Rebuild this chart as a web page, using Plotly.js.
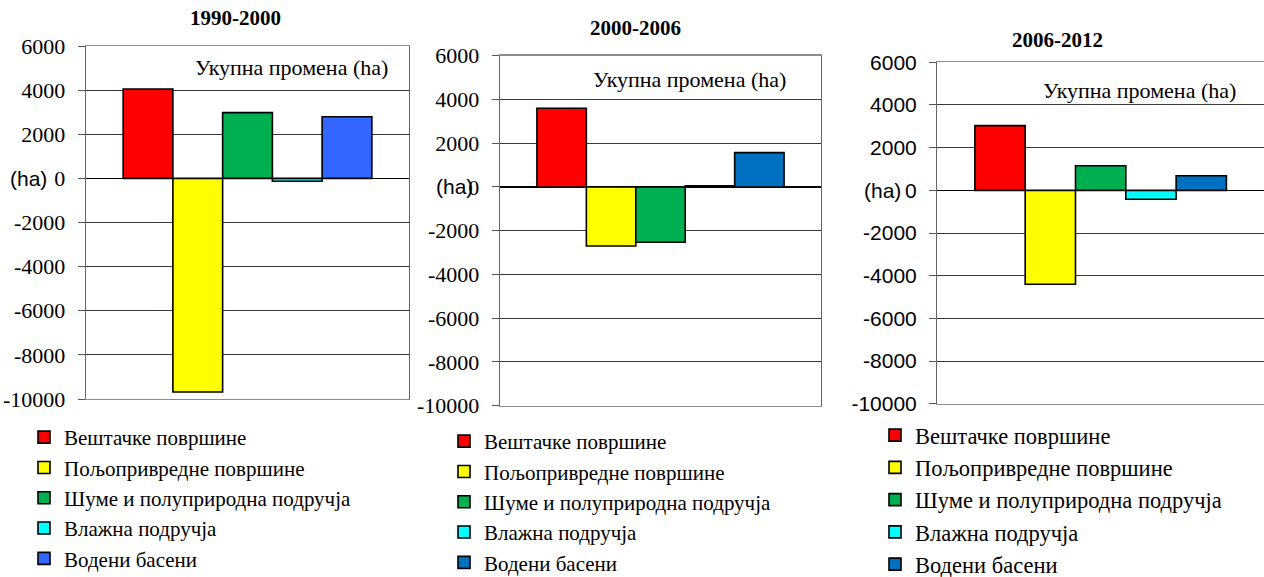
<!DOCTYPE html>
<html>
<head>
<meta charset="utf-8">
<script src="https://cdn.plot.ly/plotly-3.0.1.min.js"></script>
<style>html,body{margin:0;padding:0;background:#fff;}#chart{width:1264px;height:577px;}</style>
</head>
<body>
<div id="chart"></div>
<script>
// ---- data ----
const categories = ['Вештачке површине', 'Пољопривредне површине', 'Шуме и полуприродна подручја', 'Влажна подручја', 'Водени басени'];
const periods = ['1990-2000', '2000-2006', '2006-2012'];
const values1990_2000 = [4050, -9680, 2980, -130, 2790];
const values2000_2006 = [3600, -2700, -2530, 50, 1570];
const values2006_2012 = [3030, -4400, 1150, -420, 680];
const yTicks = [-10000, -8000, -6000, -4000, -2000, 0, 2000, 4000, 6000];
const insideLabel = 'Укупна промена (ha)';
const unitLabel = '(ha)';

// ---- styles ----
const colorsA = ['#FF0000', '#FFFF00', '#00B050', '#00FFFF', '#3366FF'];
const colorsB = ['#FF0000', '#FFFF00', '#00B050', '#00FFFF', '#0070C0'];
const W = 1264, H = 577;
const serif = 'Liberation Serif, Times New Roman, serif';
const sans = 'Liberation Sans, Arial, sans-serif';

const panels = [
  {vals: values1990_2000, colors: colorsA, xa: 'x', ya: 'y', leg: 'legend', px: [86, 409], py: [46, 399], tickFont: serif, tickSize: 22,
   title: [235, 18], inside: [291, 67], unit: [28, 178], legX: 24, legY: 417, legFont: 21},
  {vals: values2000_2006, colors: colorsB, xa: 'x2', ya: 'y2', leg: 'legend2', px: [500, 821], py: [55.7, 405.7], tickFont: serif, tickSize: 22,
   title: [635, 28], inside: [689, 80], unit: [455, 187], legX: 444, legY: 421, legFont: 21},
  {vals: values2006_2012, colors: colorsB, xa: 'x3', ya: 'y3', leg: 'legend3', px: [937.3, 1264], py: [62.3, 403.7], tickFont: sans, tickSize: 21,
   title: [1057, 40], inside: [1139, 90], unit: [882, 190], legX: 875, legY: 414, legFont: 22.5}
];

const data = [];
const layout = {
  width: W, height: H,
  margin: {l: 0, r: 0, t: 0, b: 0, autoexpand: false},
  paper_bgcolor: '#fff', plot_bgcolor: '#fff',
  barmode: 'group', bargap: 0.23, bargroupgap: 0,
  showlegend: true,
  annotations: []
};

panels.forEach((p, i) => {
  const sfx = i === 0 ? '' : String(i + 1);
  categories.forEach((c, k) => {
    data.push({
      type: 'bar',
      name: c,
      x: [periods[i]],
      y: [p.vals[k]],
      xaxis: p.xa, yaxis: p.ya,
      legend: p.leg,
      marker: {color: p.colors[k], line: {color: '#000', width: 1.6}},
      hovertemplate: c + ': %{y}<extra>' + periods[i] + '</extra>'
    });
  });
  layout['xaxis' + sfx] = {
    domain: [p.px[0] / W, p.px[1] / W],
    anchor: p.ya,
    showticklabels: false, ticks: '',
    showgrid: false, zeroline: false,
    showline: true, linecolor: '#8c8c8c', linewidth: 1.3, mirror: true,
    fixedrange: true
  };
  layout['yaxis' + sfx] = {
    domain: [1 - p.py[1] / H, 1 - p.py[0] / H],
    anchor: p.xa,
    range: [-10000, 6000],
    tickvals: yTicks,
    ticktext: yTicks.map(String),
    ticks: 'outside', ticklen: 7, tickcolor: '#555', tickwidth: 1,
    ticklabelstandoff: 8,
    tickfont: {family: p.tickFont, size: p.tickSize, color: '#000'},
    showgrid: true, gridcolor: '#3a3a3a', gridwidth: 1,
    zeroline: true, zerolinecolor: '#000', zerolinewidth: 1.2,
    showline: true, linecolor: '#666', linewidth: 1.3, mirror: true,
    fixedrange: true
  };
  layout[p.leg] = {
    x: p.legX / W, y: 1 - p.legY / H, xanchor: 'left', yanchor: 'top',
    xref: 'paper', yref: 'paper',
    orientation: 'v',
    bgcolor: 'rgba(0,0,0,0)', borderwidth: 0,
    font: {family: serif, size: p.legFont, color: '#000'}
  };
  layout.annotations.push({
    text: '<b>' + periods[i] + '</b>', xref: 'paper', yref: 'paper',
    x: p.title[0] / W, y: 1 - p.title[1] / H, xanchor: 'center', yanchor: 'middle',
    showarrow: false, font: {family: serif, size: 21, color: '#000'}
  });
  layout.annotations.push({
    text: insideLabel, xref: 'paper', yref: 'paper',
    x: p.inside[0] / W, y: 1 - p.inside[1] / H, xanchor: 'center', yanchor: 'middle',
    showarrow: false, font: {family: serif, size: 22, color: '#000'}
  });
  layout.annotations.push({
    text: unitLabel, xref: 'paper', yref: 'paper',
    x: p.unit[0] / W, y: 1 - p.unit[1] / H, xanchor: 'center', yanchor: 'middle',
    showarrow: false, font: {family: sans, size: 21, color: '#000'}
  });
});

Plotly.newPlot('chart', data, layout, {displayModeBar: false, staticPlot: true});
</script>
</body>
</html>
